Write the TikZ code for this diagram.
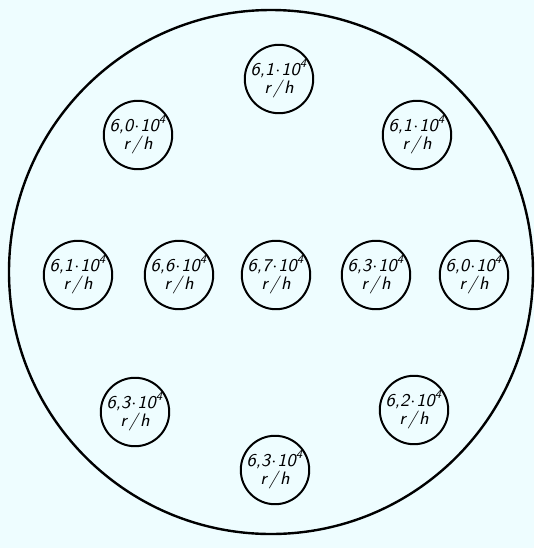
\documentclass[tikz,border=0pt]{standalone}
\usepackage{tikz}

\definecolor{paper}{RGB}{238,253,255}
\tikzset{
    probe/.style={draw, circle, line width=1pt, minimum size=32pt, inner sep=0pt,
        align=center, font=\sffamily\itshape\fontsize{9}{7.5}\selectfont},
}
\newcommand{\dose}[2]{#1,#2\hspace{0.5pt}$\cdot$\hspace{0.5pt}10\textsuperscript{4}\\[0.5pt]r\hspace{1pt}/\hspace{1pt}h}

\begin{document}
\begin{tikzpicture}[x=0.5pt, y=-0.5pt]
    \fill[paper] (0,0) rectangle (534,548);
    \node[draw, circle, line width=1.2pt, minimum size=262pt, inner sep=0pt] (vessel) at (271,272) {};
    \foreach \x/\y/\a/\b/\n in {279/79/6/1/top, 138/135/6/0/nw, 417/135/6/1/ne,
        78/275/6/1/w, 179/275/6/6/cw, 276/275/6/7/c, 376/275/6/3/ce, 474/275/6/0/e,
        135/412/6/3/sw, 414/410/6/2/se, 275/470/6/3/bot}
        \node[probe] (\n) at (\x,\y) {\dose{\a}{\b}};
\end{tikzpicture}
\end{document}
